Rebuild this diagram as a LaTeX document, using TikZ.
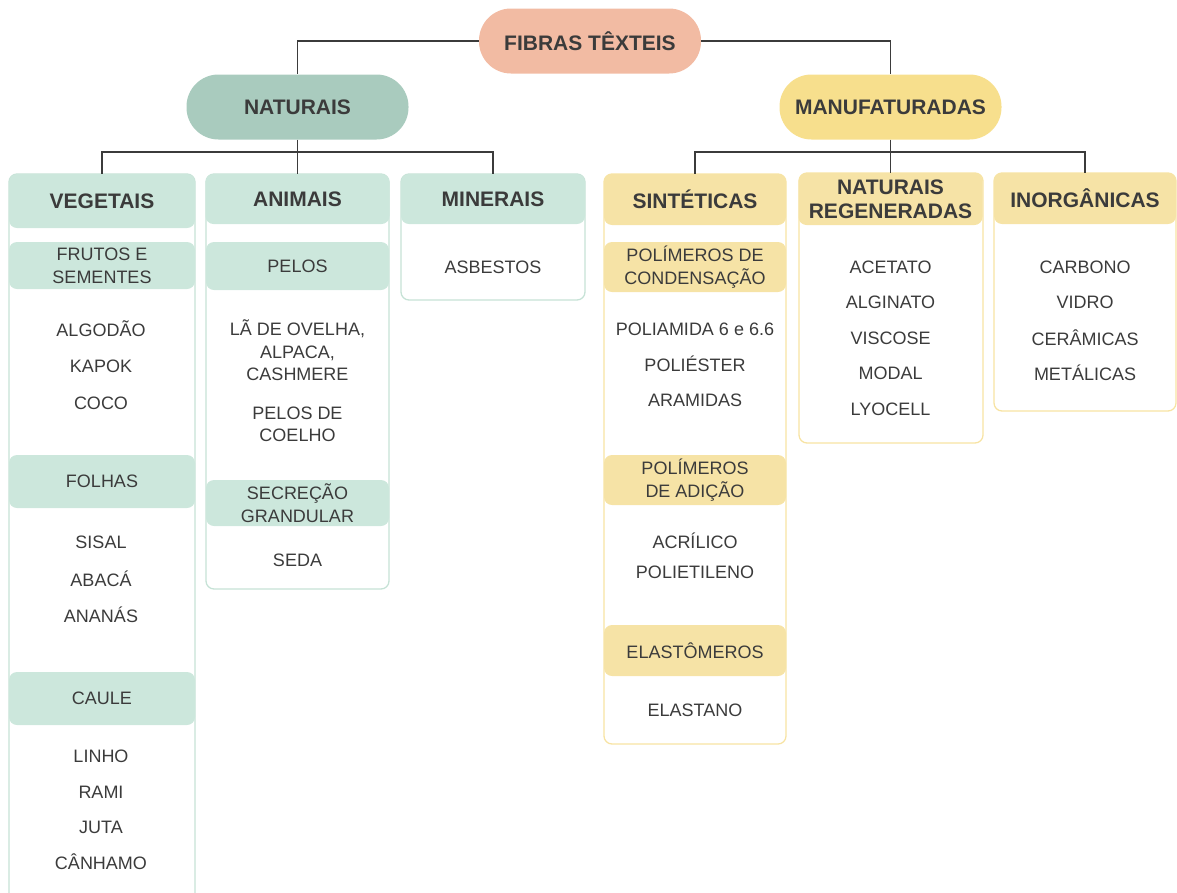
\documentclass[tikz,border=0pt]{standalone}
\usepackage{fontspec}
\setmainfont{Liberation Sans}
\usepackage{tikz}
\definecolor{salmon}{HTML}{F2BBA3}
\definecolor{sage}{HTML}{A9CBBE}
\definecolor{mint}{HTML}{CCE7DC}
\definecolor{mintline}{HTML}{C6E2D6}
\definecolor{gold}{HTML}{F7DF8D}
\definecolor{sand}{HTML}{F6E3A6}
\definecolor{sandline}{HTML}{F7E3A3}
\definecolor{ink}{HTML}{3B3B3B}

\begin{document}
\begin{tikzpicture}[x=1pt, y=-1pt,
  pill/.style={rounded corners=32pt, minimum width=222pt, minimum height=65pt, inner sep=0pt,
    font=\fontsize{21}{24}\selectfont\bfseries, text=ink},
  head/.style={rounded corners=8pt, minimum width=184pt, minimum height=51pt, inner sep=0pt,
    align=center, font=\fontsize{21}{24}\selectfont\bfseries, text=ink},
  band/.style={rounded corners=8pt, minimum width=186pt, inner sep=0pt,
    align=center, font=\fontsize{18}{23}\selectfont, text=ink},
  item/.style={inner sep=0pt, align=center, font=\fontsize{18}{22.5}\selectfont, text=ink},
  link/.style={draw=ink, line width=1.3pt},
  mintbox/.style={draw=mintline, line width=1.3pt, rounded corners=8pt},
  sandbox/.style={draw=sandline, line width=1.3pt, rounded corners=8pt}]
  \useasboundingbox (0,0) rectangle (1177,892);
  \clip (0,0) rectangle (1177,892);
  % column outlines
  \draw[mintbox] (9,174) rectangle (195,910);
  \draw[mintbox] (206,174) rectangle (389,589);
  \draw[mintbox] (401,174) rectangle (585,300);
  \draw[sandbox] (604,174) rectangle (786,744);
  \draw[sandbox] (799,173) rectangle (983,443);
  \draw[sandbox] (994,173) rectangle (1176,411);
  % top levels
  \node[pill, fill=salmon] (0) at (590,41) {FIBRAS TÊXTEIS};
  \node[pill, fill=sage] (1) at (297.5,107) {NATURAIS};
  \node[pill, fill=gold] (2) at (890.5,107) {MANUFATURADAS};
  % column heads
  \node[head, fill=mint, minimum width=186pt, minimum height=54pt] (3) at (102,201) {VEGETAIS};
  \node[head, fill=mint, minimum height=50pt] (4) at (297.5,199) {ANIMAIS};
  \node[head, fill=mint, minimum height=50pt] (5) at (493,199) {MINERAIS};
  \node[head, fill=sand, minimum width=182pt] (6) at (695,199.5) {SINTÉTICAS};
  \node[head, fill=sand, minimum height=52pt] (7) at (890.5,199) {NATURAIS\\REGENERADAS};
  \node[head, fill=sand, minimum width=182pt] (8) at (1085,198.5) {INORGÂNICAS};
  \coordinate (9) at (297.5,152);
  \coordinate (10) at (890.5,152);
  \draw[link] (0.west) -| (1.north);
  \draw[link] (0.east) -| (2.north);
  \draw[link] (1.south) -- (9);
  \draw[link] (3.north) |- (9) -| (5.north);
  \draw[link] (9) -- (4.north);
  \draw[link] (2.south) -- (10);
  \draw[link] (6.north) |- (10) -| (8.north);
  \draw[link] (10) -- (7.north);
  % sub groups
  \node[band, fill=mint, minimum height=47pt] (11) at (102,265.5) {FRUTOS E\\SEMENTES};
  \node[band, fill=mint, minimum height=53pt] (12) at (102,481.5) {FOLHAS};
  \node[band, fill=mint, minimum height=53pt] (13) at (102,698.5) {CAULE};
  \node[band, fill=mint, minimum width=183pt, minimum height=48pt] (14) at (297.5,266) {PELOS};
  \node[band, fill=mint, minimum width=183pt, minimum height=46pt] (15) at (297.5,503) {SECREÇÃO\\GRANDULAR};
  \node[band, fill=sand, minimum width=182pt, minimum height=50pt] (16) at (695,267) {POLÍMEROS DE\\CONDENSAÇÃO};
  \node[band, fill=sand, minimum width=182pt, minimum height=50pt] (17) at (695,480) {POLÍMEROS\\DE ADIÇÃO};
  \node[band, fill=sand, minimum width=182pt, minimum height=51pt] (18) at (695,650.5) {ELASTÔMEROS};
  % vegetais
  \node[item] (19) at (101,329) {ALGODÃO};
  \node[item] (20) at (101,366) {KAPOK};
  \node[item] (21) at (101,403) {COCO};
  \node[item] (22) at (101,542) {SISAL};
  \node[item] (23) at (101,579) {ABACÁ};
  \node[item] (24) at (101,615) {ANANÁS};
  \node[item] (25) at (101,756) {LINHO};
  \node[item] (26) at (101,792) {RAMI};
  \node[item] (27) at (101,827) {JUTA};
  \node[item] (28) at (101,862) {CÂNHAMO};
  % animais
  \node[item] (29) at (297.5,350.5) {LÃ DE OVELHA,\\ALPACA,\\CASHMERE};
  \node[item] (30) at (297.5,424.5) {PELOS DE\\COELHO};
  \node[item] (31) at (297.5,560) {SEDA};
  % minerais
  \node[item] (32) at (493,267) {ASBESTOS};
  % sinteticas
  \node[item] (33) at (695,329) {POLIAMIDA 6 e 6.6};
  \node[item] (34) at (695,364) {POLIÉSTER};
  \node[item] (35) at (695,400) {ARAMIDAS};
  \node[item] (36) at (695,541) {ACRÍLICO};
  \node[item] (37) at (695,572) {POLIETILENO};
  \node[item] (38) at (695,710) {ELASTANO};
  % regeneradas
  \node[item] (39) at (890.5,267) {ACETATO};
  \node[item] (40) at (890.5,302) {ALGINATO};
  \node[item] (41) at (890.5,338) {VISCOSE};
  \node[item] (42) at (890.5,373) {MODAL};
  \node[item] (43) at (890.5,409) {LYOCELL};
  % inorganicas
  \node[item] (44) at (1085,267) {CARBONO};
  \node[item] (45) at (1085,302) {VIDRO};
  \node[item] (46) at (1085,338) {CERÂMICAS};
  \node[item] (47) at (1085,373) {METÁLICAS};
\end{tikzpicture}
\end{document}
